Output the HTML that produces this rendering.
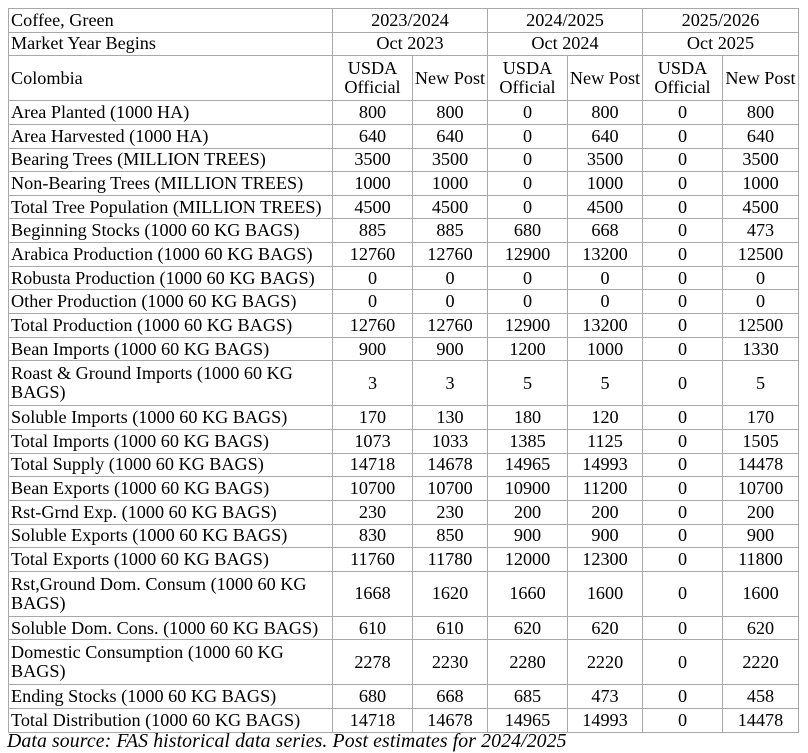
<!DOCTYPE html>
<html><head><meta charset="utf-8"><style>
body{margin:0;background:#fff;width:808px;height:753px;overflow:hidden;font-family:"Liberation Serif",serif;font-size:18.2px;color:#000;position:relative}
table{position:absolute;left:8px;top:8px;border-collapse:collapse;width:790px;table-layout:fixed}
td{border:1px solid #a8a8a8;padding:0 1px;text-align:center;line-height:19px;height:22.65px;vertical-align:middle;white-space:nowrap;overflow:hidden}
td.l{text-align:left;white-space:normal;padding-left:2px}
tr.d td{height:44px}
.cap{position:absolute;left:7px;top:730px;font-style:italic;font-size:19.8px;letter-spacing:0.1px}
</style></head><body>
<table>
<colgroup><col style="width:324px"><col style="width:80px"><col style="width:75px"><col style="width:80px"><col style="width:75px"><col style="width:80px"><col style="width:76px"></colgroup>
<tr><td class="l">Coffee, Green</td><td colspan="2">2023/2024</td><td colspan="2">2024/2025</td><td colspan="2">2025/2026</td></tr>
<tr><td class="l">Market Year Begins</td><td colspan="2">Oct 2023</td><td colspan="2">Oct 2024</td><td colspan="2">Oct 2025</td></tr>
<tr class="d"><td class="l">Colombia</td><td>USDA<br>Official</td><td>New Post</td><td>USDA<br>Official</td><td>New Post</td><td>USDA<br>Official</td><td>New Post</td></tr>
<tr><td class="l">Area Planted (1000 HA)</td><td>800</td><td>800</td><td>0</td><td>800</td><td>0</td><td>800</td></tr>
<tr><td class="l">Area Harvested (1000 HA)</td><td>640</td><td>640</td><td>0</td><td>640</td><td>0</td><td>640</td></tr>
<tr><td class="l">Bearing Trees (MILLION TREES)</td><td>3500</td><td>3500</td><td>0</td><td>3500</td><td>0</td><td>3500</td></tr>
<tr><td class="l">Non-Bearing Trees (MILLION TREES)</td><td>1000</td><td>1000</td><td>0</td><td>1000</td><td>0</td><td>1000</td></tr>
<tr><td class="l">Total Tree Population (MILLION TREES)</td><td>4500</td><td>4500</td><td>0</td><td>4500</td><td>0</td><td>4500</td></tr>
<tr><td class="l">Beginning Stocks (1000 60 KG BAGS)</td><td>885</td><td>885</td><td>680</td><td>668</td><td>0</td><td>473</td></tr>
<tr><td class="l">Arabica Production (1000 60 KG BAGS)</td><td>12760</td><td>12760</td><td>12900</td><td>13200</td><td>0</td><td>12500</td></tr>
<tr><td class="l">Robusta Production (1000 60 KG BAGS)</td><td>0</td><td>0</td><td>0</td><td>0</td><td>0</td><td>0</td></tr>
<tr><td class="l">Other Production (1000 60 KG BAGS)</td><td>0</td><td>0</td><td>0</td><td>0</td><td>0</td><td>0</td></tr>
<tr><td class="l">Total Production (1000 60 KG BAGS)</td><td>12760</td><td>12760</td><td>12900</td><td>13200</td><td>0</td><td>12500</td></tr>
<tr><td class="l">Bean Imports (1000 60 KG BAGS)</td><td>900</td><td>900</td><td>1200</td><td>1000</td><td>0</td><td>1330</td></tr>
<tr class="d"><td class="l">Roast &amp; Ground Imports (1000 60 KG BAGS)</td><td>3</td><td>3</td><td>5</td><td>5</td><td>0</td><td>5</td></tr>
<tr><td class="l">Soluble Imports (1000 60 KG BAGS)</td><td>170</td><td>130</td><td>180</td><td>120</td><td>0</td><td>170</td></tr>
<tr><td class="l">Total Imports (1000 60 KG BAGS)</td><td>1073</td><td>1033</td><td>1385</td><td>1125</td><td>0</td><td>1505</td></tr>
<tr><td class="l">Total Supply (1000 60 KG BAGS)</td><td>14718</td><td>14678</td><td>14965</td><td>14993</td><td>0</td><td>14478</td></tr>
<tr><td class="l">Bean Exports (1000 60 KG BAGS)</td><td>10700</td><td>10700</td><td>10900</td><td>11200</td><td>0</td><td>10700</td></tr>
<tr><td class="l">Rst-Grnd Exp. (1000 60 KG BAGS)</td><td>230</td><td>230</td><td>200</td><td>200</td><td>0</td><td>200</td></tr>
<tr><td class="l">Soluble Exports (1000 60 KG BAGS)</td><td>830</td><td>850</td><td>900</td><td>900</td><td>0</td><td>900</td></tr>
<tr><td class="l">Total Exports (1000 60 KG BAGS)</td><td>11760</td><td>11780</td><td>12000</td><td>12300</td><td>0</td><td>11800</td></tr>
<tr class="d"><td class="l">Rst,Ground Dom. Consum (1000 60 KG BAGS)</td><td>1668</td><td>1620</td><td>1660</td><td>1600</td><td>0</td><td>1600</td></tr>
<tr><td class="l">Soluble Dom. Cons. (1000 60 KG BAGS)</td><td>610</td><td>610</td><td>620</td><td>620</td><td>0</td><td>620</td></tr>
<tr class="d"><td class="l">Domestic Consumption (1000 60 KG BAGS)</td><td>2278</td><td>2230</td><td>2280</td><td>2220</td><td>0</td><td>2220</td></tr>
<tr><td class="l">Ending Stocks (1000 60 KG BAGS)</td><td>680</td><td>668</td><td>685</td><td>473</td><td>0</td><td>458</td></tr>
<tr><td class="l">Total Distribution (1000 60 KG BAGS)</td><td>14718</td><td>14678</td><td>14965</td><td>14993</td><td>0</td><td>14478</td></tr>
</table>
<div class="cap">Data source: FAS historical data series. Post estimates for 2024/2025</div>
</body></html>
